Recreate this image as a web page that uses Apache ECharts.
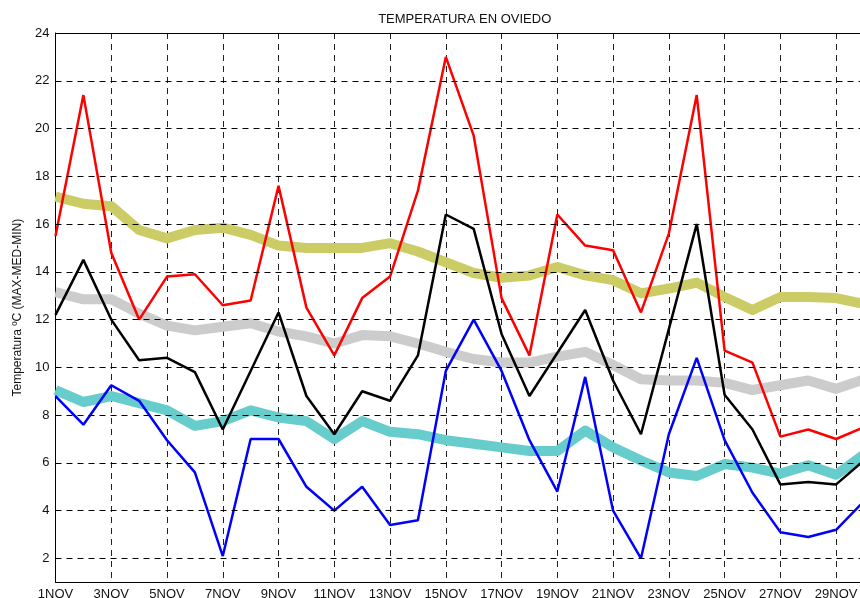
<!DOCTYPE html>
<html>
<head>
<meta charset="utf-8">
<script src="https://cdn.jsdelivr.net/npm/echarts@6/dist/echarts.min.js"></script>
<style>html,body{margin:0;padding:0;background:#fff;}#c{width:860px;height:598px;}</style>
</head>
<body>
<div id="c"></div>
<script>
var days = ['1NOV','2NOV','3NOV','4NOV','5NOV','6NOV','7NOV','8NOV','9NOV','10NOV','11NOV','12NOV','13NOV','14NOV','15NOV','16NOV','17NOV','18NOV','19NOV','20NOV','21NOV','22NOV','23NOV','24NOV','25NOV','26NOV','27NOV','28NOV','29NOV','30NOV'];
var tMax = [15.5,21.4,14.8,12.0,13.8,13.9,12.6,12.8,17.6,12.5,10.5,12.9,13.8,17.4,23.0,19.7,12.9,10.5,16.4,15.1,14.9,12.3,15.6,21.4,10.7,10.2,7.1,7.4,7.0,7.5];
var tMed = [12.2,14.5,12.0,10.3,10.4,9.8,7.4,9.85,12.3,8.8,7.2,9.0,8.6,10.5,16.4,15.8,11.4,8.8,10.6,12.4,9.45,7.2,11.6,16.0,8.85,7.4,5.1,5.2,5.1,6.1];
var tMin = [8.8,7.6,9.25,8.6,6.95,5.6,2.1,7.0,7.0,5.0,4.0,5.0,3.4,3.6,9.85,12.0,9.85,6.95,4.8,9.6,4.0,2.0,7.2,10.4,6.95,4.75,3.1,2.9,3.2,4.4];
var normMax = [17.15,16.85,16.75,15.75,15.4,15.75,15.85,15.55,15.1,15.0,15.0,15.0,15.2,14.85,14.4,13.95,13.75,13.85,14.2,13.85,13.65,13.1,13.3,13.55,12.95,12.4,12.95,12.95,12.9,12.65];
var normMed = [13.15,12.85,12.85,12.25,11.75,11.55,11.7,11.85,11.5,11.3,11.0,11.35,11.3,11.0,10.65,10.35,10.2,10.2,10.45,10.65,10.1,9.5,9.45,9.45,9.35,9.05,9.25,9.45,9.1,9.5];
var normMin = [9.05,8.55,8.8,8.5,8.2,7.55,7.75,8.2,7.9,7.75,7.0,7.75,7.3,7.2,6.95,6.8,6.65,6.5,6.5,7.35,6.65,6.1,5.6,5.45,5.95,5.8,5.55,5.9,5.5,6.35];
var gridValues = [2,4,6,8,10,12,14,16,18,20,22];

var chart = echarts.init(document.getElementById('c'), null, {renderer:'canvas'});
var font = 'Liberation Sans, Arial, sans-serif';
function band(name, data, color){
  return {name:name, type:'line', data:data, symbol:'none', z:2, silent:true,
    lineStyle:{color:color, width:10, join:'round'}};
}
function line(name, data, color){
  return {name:name, type:'line', data:data, symbol:'none', z:3, silent:true,
    lineStyle:{color:color, width:2.5}};
}
chart.setOption({
  animation:false,
  backgroundColor:'#fff',
  title:{text:'TEMPERATURA EN OVIEDO', left:459.7, top:8, textAlign:'center',
    textStyle:{fontFamily:font, fontSize:13, fontWeight:'normal', color:'#111'}},
  grid:{left:55.5, top:33, width:808.5, height:549.3, show:false, containLabel:false, outerBoundsMode:'none'},
  xAxis:[{type:'category', data:days, boundaryGap:false,
    axisLine:{show:true, lineStyle:{color:'#000', width:1}},
    axisTick:{show:false},
    axisLabel:{interval:1, fontFamily:font, fontSize:13, color:'#111', margin:6},
    splitLine:{show:true, interval:1, lineStyle:{color:'#222', width:1, type:[6,5]}}},
   {type:'category', data:days, boundaryGap:false, position:'top',
    axisLine:{show:true, lineStyle:{color:'#000', width:1}},
    axisTick:{show:false}, axisLabel:{show:false}, splitLine:{show:false}}],
  yAxis:{type:'value', min:1, max:24, interval:1,
    name:'Temperatura ºC (MAX-MED-MIN)', nameLocation:'middle', nameGap:32,
    nameTextStyle:{fontFamily:font, fontSize:12, color:'#111'},
    axisLine:{show:true, lineStyle:{color:'#000', width:1}},
    axisTick:{show:false},
    axisLabel:{fontFamily:font, fontSize:13, color:'#111', margin:6,
      formatter:function(v){return (v % 2 === 0) ? String(v) : '';}},
    splitLine:{show:false}},
  series:[
    {name:'grid', type:'line', data:days.map(function(){return null;}), symbol:'none', z:1, silent:true,
      markLine:{silent:true, symbol:'none', label:{show:false}, animation:false,
        lineStyle:{color:'#000', width:1, type:[6,5]},
        data:gridValues.map(function(v){return {yAxis:v};})}},
    band('normMax', normMax, '#cccc66'),
    band('normMed', normMed, '#cccccc'),
    band('normMin', normMin, '#66cccc'),
    line('max', tMax, '#ff0000'),
    line('med', tMed, '#000000'),
    line('min', tMin, '#0000ff')
  ]
});
</script>
</body>
</html>
